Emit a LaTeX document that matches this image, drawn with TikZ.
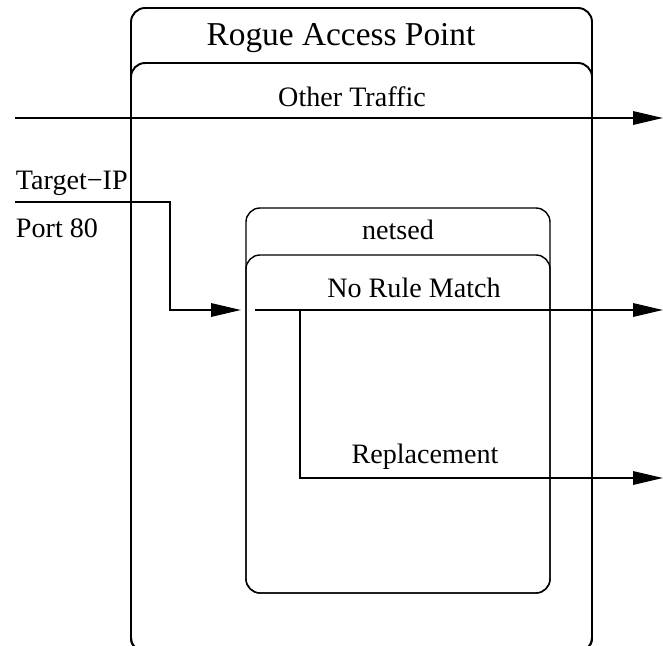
\documentclass[tikz,border=0pt]{standalone}
\usepackage{fontspec}
\setmainfont{Liberation Serif}
\usetikzlibrary{arrows.meta}

\begin{document}
\begin{tikzpicture}[x=0.02cm,y=-0.02cm,>={Triangle[length=17pt,width=7.6pt]},line width=1.1pt,
    box/.style={rounded corners=8pt,line width=1.1pt},
    subbox/.style={rounded corners=8pt,line width=0.8pt},
    lbl/.style={font=\fontsize{16}{19}\selectfont,inner sep=0pt}]
    \useasboundingbox (0,0) rectangle (663,646);
    \clip (0,0) rectangle (663,646);
    % boxes
    \draw[box] (131,652) rectangle (592,8);
    \draw[box] (131,652) rectangle (592,63);
    \draw[subbox] (246,593) rectangle (550,208);
    \draw[subbox] (246,593) rectangle (550,255);
    % labels
    \node[lbl,font=\fontsize{19}{22}\selectfont] (rogue) at (341,38) {Rogue Access Point};
    \node[lbl] (other) at (352,97) {Other Traffic};
    \node[lbl] (netsed) at (398,230) {netsed};
    \node[lbl] (nomatch) at (414,288) {No Rule Match};
    \node[lbl] (repl) at (425,457) {Replacement};
    \node[lbl,anchor=west] (target) at (15,183) {Target−IP};
    \node[lbl,anchor=west] (port) at (15,228) {Port 80};
    % connector ends
    \coordinate (otherin) at (15,118);
    \coordinate (otherout) at (663,118);
    \coordinate (tin) at (15,202);
    \coordinate (tbend) at (170,202);
    \coordinate (tdown) at (170,310);
    \coordinate (nsin) at (241,310);
    \coordinate (nsstart) at (255,310);
    \coordinate (split) at (300,310);
    \coordinate (nsout) at (663,310);
    \coordinate (rbend) at (300,478);
    \coordinate (rout) at (663,478);
    \draw[->] (otherin) -- (otherout);
    \draw[->] (tin) -- (tbend) -- (tdown) -- (nsin);
    \draw[->] (nsstart) -- (nsout);
    \draw[->] (split) -- (rbend) -- (rout);
\end{tikzpicture}
\end{document}
